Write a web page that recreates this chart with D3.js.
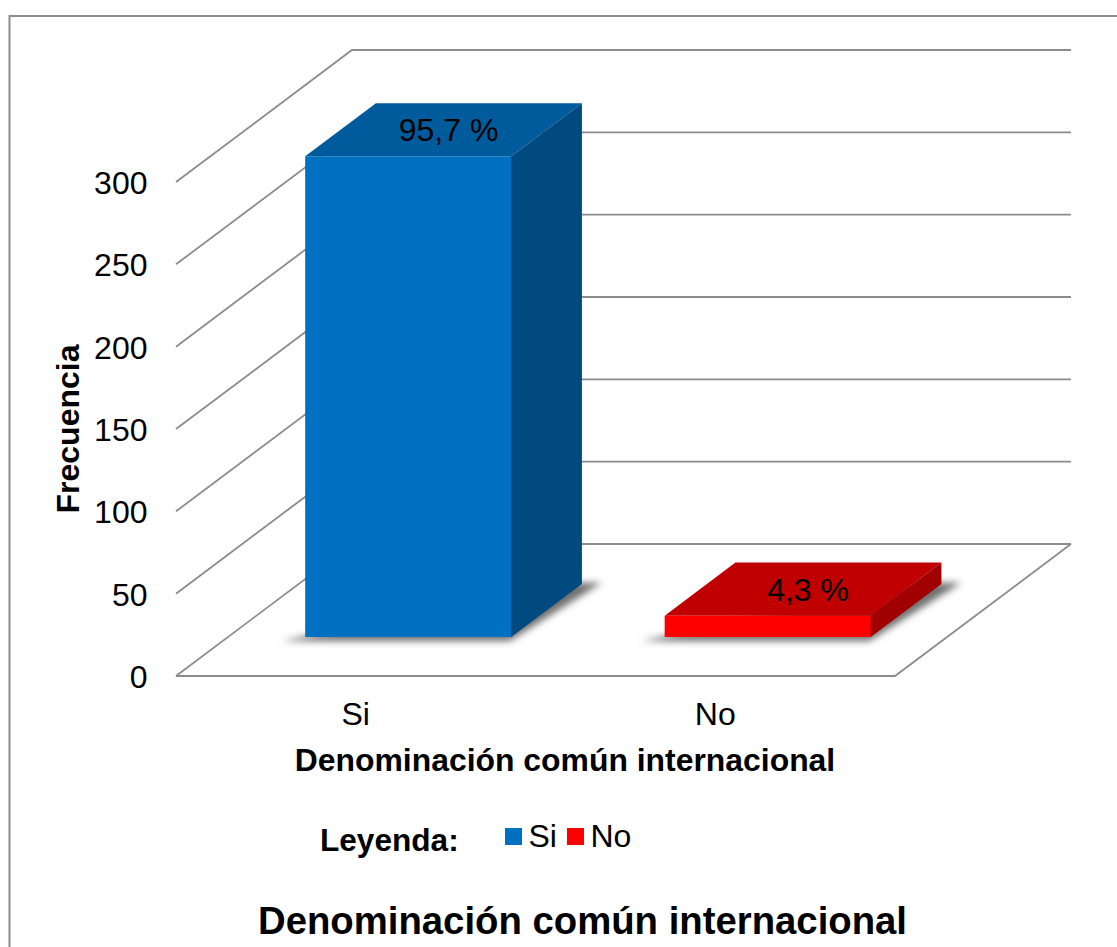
<!DOCTYPE html>
<html><head><meta charset="utf-8">
<style>html,body{margin:0;padding:0;background:#fff}svg{display:block}text{font-family:"Liberation Sans",Arial,sans-serif;fill:#000}</style>
<script src="https://cdn.jsdelivr.net/npm/d3@7"></script></head>
<body><svg id="c" width="1117" height="947"></svg>
<script>
const categories = ["Si", "No"];
const frecuencia = [292, 13];
const etiquetas = ["95,7 %", "4,3 %"];
const yTicks = [0, 50, 100, 150, 200, 250, 300];
const frontColors = ["#0070C0", "#FF0000"];
const topColors = ["#005B9C", "#C00000"];
const sideColors = ["#004A80", "#A00000"];

const W = 1117, H = 947;
const svg = d3.select("#c");
const defs = svg.append("defs");
defs.append("filter").attr("id","blur").attr("x","-20%").attr("y","-40%").attr("width","140%").attr("height","180%")
  .append("feGaussianBlur").attr("stdDeviation",3.5);

const x = d3.scaleBand().domain(categories).range([176, 895]);
const y = d3.scaleLinear().domain([0, 300]).range([676, 182]);
const depthX = d3.scaleLinear().domain([0, 1]).range([0, 176]);
const depthY = d3.scaleLinear().domain([0, 1]).range([0, -132]);
const pt = (px, v, z) => [px + depthX(z), y(v) + depthY(z)];
const barW = x.bandwidth() * 0.573, z0 = 0.295, z1 = 0.697;
const line = d3.line();
const GRID = "#8c8c8c";

// frame
svg.append("path").attr("d", line([[9.5, H], [9.5, 16], [W, 16]]))
  .attr("fill","none").attr("stroke","#8c8c8c").attr("stroke-width",2);

// gridlines: side wall + back wall
const [x0, x1] = x.range();
const grid = svg.append("g").attr("fill","none").attr("stroke",GRID).attr("stroke-width",1.8);
yTicks.forEach(v => {
  grid.append("path").attr("d", line([pt(x0, v, 0), pt(x0, v, 1), pt(x1, v, 1)]));
});
// floor
grid.append("path").attr("d", line([pt(x0,0,0), pt(x1,0,0), pt(x1,0,1)]));

// bars
const bars = svg.append("g").selectAll("g").data(categories).join("g");
bars.each(function(c, i) {
  const g = d3.select(this);
  const v = frecuencia[i];
  const l = x(c) + (x.bandwidth() - barW) / 2 + 0.5, r = l + barW;
  // shadow
  g.append("path").attr("d", line([pt(l-18,0,z0-0.03), pt(r+4,0,z0-0.03), pt(r+18,0,z1+0.01), pt(r-20,0,z1+0.01)])+"Z")
    .attr("fill","#707070").attr("filter","url(#blur)");
  // top
  g.append("path").attr("d", line([pt(l,v,z0), pt(r,v,z0), pt(r,v,z1), pt(l,v,z1)])+"Z").attr("fill",topColors[i]);
  // side
  g.append("path").attr("d", line([pt(r-1,0,z0), pt(r,0,z0), pt(r,0,z1), pt(r,v,z1), pt(r,v,z0), pt(r-1,v,z0)])+"Z").attr("fill",sideColors[i]);
  // front
  g.append("path").attr("d", line([pt(l,0,z0), pt(r,0,z0), pt(r,v,z0), pt(l,v,z0)])+"Z").attr("fill",frontColors[i]);
  // label
  const p = pt((l+r)/2, v, (z0+z1)/2);
  g.append("text").attr("x", p[0]+5).attr("y", p[1]+11.5).attr("text-anchor","middle")
    .attr("font-size",32).text(etiquetas[i]);
});

// y axis labels
svg.append("g").selectAll("text").data(yTicks).join("text")
  .attr("x",147.5).attr("y",d=>y(d)+12).attr("text-anchor","end").attr("font-size",32).text(d=>d);
// x axis labels
svg.append("g").selectAll("text").data(categories).join("text")
  .attr("x",d=>x(d)+x.bandwidth()/2).attr("y",725).attr("text-anchor","middle").attr("font-size",32).text(d=>d);

svg.append("text").attr("x",565).attr("y",771).attr("text-anchor","middle").attr("font-weight","bold").attr("font-size",31.9).text("Denominación común internacional");
svg.append("text").attr("transform","translate(79,429) rotate(-90)").attr("text-anchor","middle").attr("font-weight","bold").attr("font-size",32).text("Frecuencia");

// legend
svg.append("text").attr("x",320).attr("y",851).attr("font-weight","bold").attr("font-size",31.6).text("Leyenda:");
const legendX = d3.scaleOrdinal().domain(categories).range([505, 567]);
const leg = svg.append("g").selectAll("g").data(categories).join("g");
leg.append("rect").attr("x",d=>legendX(d)).attr("y",828).attr("width",17).attr("height",17).attr("fill",(d,i)=>frontColors[i]);
leg.append("text").attr("x",d=>legendX(d)+23.5).attr("y",847).attr("font-size",32).text(d=>d);

svg.append("text").attr("x",582.5).attr("y",934).attr("text-anchor","middle").attr("font-weight","bold").attr("font-size",38.3).text("Denominación común internacional");
</script></body></html>
